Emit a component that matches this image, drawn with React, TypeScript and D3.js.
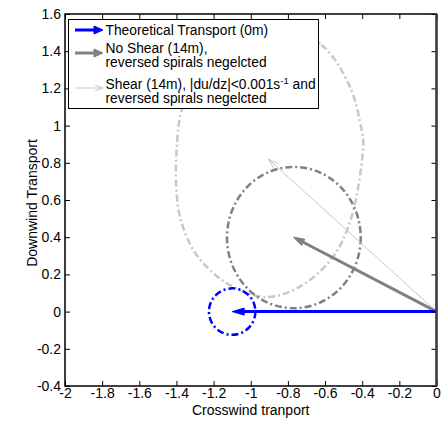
import React, { useEffect, useRef } from 'react';
import * as d3 from 'd3';

// tick values / labels
const xTicks = [-2, -1.8, -1.6, -1.4, -1.2, -1, -0.8, -0.6, -0.4, -0.2, 0];
const xTickLabels = ['-2', '-1.8', '-1.6', '-1.4', '-1.2', '-1', '-0.8', '-0.6', '-0.4', '-0.2', '0'];
const yTicks = [-0.4, -0.2, 0, 0.2, 0.4, 0.6, 0.8, 1, 1.2, 1.4, 1.6];
const yTickLabels = ['-0.4', '-0.2', '0', '0.2', '0.4', '0.6', '0.8', '1', '1.2', '1.4', '1.6'];

// transport vectors (start at origin)
const arrowTipX = [-1.1, -0.77, -0.905];
const arrowTipY = [0, 0.4, 0.82];

// spiral end circles (theoretical, no shear)
const circleCx = [-1.1, -0.768];
const circleCy = [0, 0.398];
const circleRx = [0.125, 0.36];
const circleRy = [0.125, 0.38];

// shear loop, traced
const shearLoopX = [-0.9, -0.62, -0.466, -0.403, -0.394, -0.457, -0.557, -0.735, -0.913, -1.096, -1.203, -1.309, -1.381, -1.402, -1.399, -1.372, -1.25, -1.1];
const shearLoopY = [1.56, 1.435, 1.209, 0.976, 0.907, 0.51, 0.295, 0.134, 0.078, 0.134, 0.208, 0.331, 0.51, 0.69, 0.869, 1.084, 1.35, 1.5];

const colors = ['#0000ff', '#808080', '#c8c8c8'];
const widths = [3, 3, 1];

const W = 443, H = 421;
const margin = { left: 65, right: 6.5, top: 14, bottom: 35 };
const FONT = '"Liberation Sans", Arial, sans-serif';
const FS = 14;
const DASH = '7,3,2,3';

function arrowHead(x0, y0, x1, y1, len, half) {
  const dx = x1 - x0, dy = y1 - y0;
  const d = Math.sqrt(dx * dx + dy * dy);
  const ux = dx / d, uy = dy / d;
  const bx = x1 - ux * len, by = y1 - uy * len;
  return {
    base: [bx, by],
    pts: [[bx - uy * half, by + ux * half], [x1, y1], [bx + uy * half, by - ux * half]],
  };
}

const App = () => {
  const svgRef = useRef(null);

  useEffect(() => {
    const svg = d3.select(svgRef.current);
    svg.selectAll('*').remove();

    const x = d3.scaleLinear().domain([-2, 0]).range([margin.left, W - margin.right]);
    const y = d3.scaleLinear().domain([-0.4, 1.6]).range([H - margin.bottom, margin.top]);
    const x0 = x.range()[0], x1 = x.range()[1];
    const yb = y.range()[0], yt = y.range()[1];

    const plot = svg.append('g');

    // shear loop (light gray)
    const loopPts = shearLoopX.map((v, i) => [x(v), y(shearLoopY[i])]);
    plot.append('path')
      .attr('d', d3.line().curve(d3.curveCatmullRomClosed)(loopPts))
      .attr('fill', 'none')
      .attr('stroke', colors[2])
      .attr('stroke-width', 2.5)
      .attr('stroke-dasharray', DASH);

    // circles
    [1, 0].forEach(i => {
      plot.append('ellipse')
        .attr('cx', x(circleCx[i]))
        .attr('cy', y(circleCy[i]))
        .attr('rx', x(circleRx[i]) - x(0))
        .attr('ry', y(0) - y(circleRy[i]))
        .attr('fill', 'none')
        .attr('stroke', colors[i])
        .attr('stroke-width', 2.5)
        .attr('stroke-dasharray', DASH);
    });

    // arrows
    const drawArrow = (g, ax, ay, bx, by, i, len, half) => {
      const h = arrowHead(ax, ay, bx, by, len, half);
      if (i === 2) {
        g.append('line').attr('x1', ax).attr('y1', ay).attr('x2', bx).attr('y2', by)
          .attr('stroke', colors[i]).attr('stroke-width', widths[i]);
        g.append('polyline').attr('points', h.pts.map(p => p.join(',')).join(' '))
          .attr('fill', 'none').attr('stroke', colors[i]).attr('stroke-width', 1);
      } else {
        g.append('line').attr('x1', ax).attr('y1', ay).attr('x2', h.base[0]).attr('y2', h.base[1])
          .attr('stroke', colors[i]).attr('stroke-width', widths[i]);
        g.append('polygon').attr('points', h.pts.map(p => p.join(',')).join(' '))
          .attr('fill', colors[i]).attr('stroke', colors[i]).attr('stroke-width', 1);
      }
    };
    [2, 1, 0].forEach(i => {
      drawArrow(plot, x(0), y(0), x(arrowTipX[i]), y(arrowTipY[i]), i, i === 0 ? 12 : 11, 3.5);
    });

    // axes (ticks inside, box)
    const ax = svg.append('g').attr('font-family', FONT);
    ax.append('g')
      .attr('transform', `translate(0,${yb})`)
      .call(d3.axisBottom(x).tickValues(xTicks).tickFormat((d, i) => xTickLabels[i]).tickSizeInner(-5).tickSizeOuter(0).tickPadding(2));
    ax.append('g')
      .attr('transform', `translate(0,${yt})`)
      .call(d3.axisTop(x).tickValues(xTicks).tickFormat('').tickSizeInner(-5).tickSizeOuter(0));
    ax.append('g')
      .attr('transform', `translate(${x0},0)`)
      .call(d3.axisLeft(y).tickValues(yTicks).tickFormat((d, i) => yTickLabels[i]).tickSizeInner(-5).tickSizeOuter(0).tickPadding(4));
    ax.append('g')
      .attr('transform', `translate(${x1},0)`)
      .call(d3.axisRight(y).tickValues(yTicks).tickFormat('').tickSizeInner(-5).tickSizeOuter(0));
    ax.selectAll('.domain').remove();
    ax.selectAll('.tick line').attr('stroke', '#000').attr('stroke-width', 1);
    ax.selectAll('.tick text').attr('font-size', FS).attr('fill', '#000').attr('font-family', FONT);
    ax.append('rect')
      .attr('x', x0).attr('y', yt).attr('width', x1 - x0).attr('height', yb - yt)
      .attr('fill', 'none').attr('stroke', '#000').attr('stroke-width', 1.5);
    ax.append('line').attr('x1', x1).attr('x2', x1).attr('y1', yt).attr('y2', yb)
      .attr('stroke', '#404040').attr('stroke-width', 2.5);

    // axis titles
    svg.append('text')
      .attr('x', (x0 + x1) / 2).attr('y', 415)
      .attr('text-anchor', 'middle')
      .attr('font-family', FONT).attr('font-size', FS)
      .text('Crosswind tranport');
    svg.append('text')
      .attr('transform', `translate(37,${(yt + yb) / 2 + 3}) rotate(-90)`)
      .attr('text-anchor', 'middle')
      .attr('font-family', FONT).attr('font-size', FS)
      .text('Downwind Transport');

    // legend
    const lg = svg.append('g').attr('font-family', FONT).attr('font-size', 13.8);
    lg.append('rect')
      .attr('x', 68.5).attr('y', 19.5).attr('width', 250).attr('height', 89)
      .attr('fill', '#fff').attr('stroke', '#000').attr('stroke-width', 1);
    const legY = [30, 53, 88];
    [0, 1, 2].forEach(i => {
      drawArrow(lg, 75, legY[i], 103, legY[i], i, i === 2 ? 8 : 9, i === 2 ? 3 : 4);
    });
    lg.append('text').attr('x', 105.5).attr('y', 34.5).text('Theoretical Transport (0m)');
    lg.append('text').attr('x', 105.5).attr('y', 52.5).text('No Shear (14m),');
    lg.append('text').attr('x', 105.5).attr('y', 67).text('reversed spirals negelcted');
    const t3 = lg.append('text').attr('x', 105.5).attr('y', 89);
    t3.append('tspan').text('Shear (14m), |du/dz|<0.001s');
    t3.append('tspan').attr('dy', -5).attr('font-size', 9.5).text('-1');
    t3.append('tspan').attr('dy', 5).text(' and');
    lg.append('text').attr('x', 105.5).attr('y', 102.5).text('reversed spirals negelcted');
  }, []);

  return (
    <svg ref={svgRef} width={W} height={H}
      style={{ position: 'absolute', left: 0, top: 0, background: '#fff' }} />
  );
};

export default App;
